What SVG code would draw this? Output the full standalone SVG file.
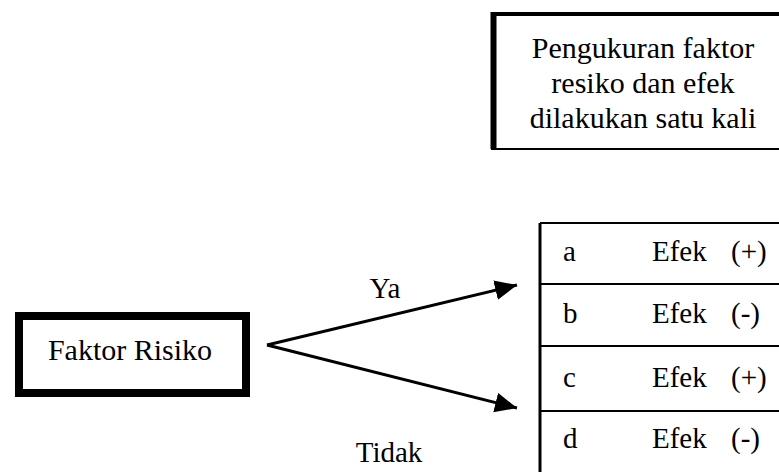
<svg xmlns="http://www.w3.org/2000/svg" width="779" height="472" viewBox="0 0 779 472">
<style>
  text { font-family: 'Liberation Serif', 'Times New Roman', 'DejaVu Serif', serif; fill: #000; }
  .big { font-size: 30px; }
  .mid { font-size: 29px; }
  .ln { stroke: #000; fill: none; }
</style>
<defs>
  <marker id="ah" viewBox="0 0 22 20" refX="22" refY="10" markerWidth="22" markerHeight="20" markerUnits="userSpaceOnUse" orient="auto">
    <path d="M0,0 L22,10 L0,20 Z" fill="#000"/>
  </marker>
</defs>
<rect width="779" height="472" fill="#fff"/>

<g id="note" font-family="Liberation Serif, serif">
  <path class="ln" d="M491,14 H779" stroke-width="4"/>
  <path class="ln" d="M493.5,12 V149" stroke-width="6"/>
  <path class="ln" d="M491,149 H779" stroke-width="2"/>
  <text class="big" x="643" y="58" text-anchor="middle">Pengukuran faktor</text>
  <text class="big" x="643" y="93" text-anchor="middle">resiko dan efek</text>
  <text class="big" x="643" y="128" text-anchor="middle">dilakukan satu kali</text>
</g>

<g id="faktor">
  <rect x="19" y="316" width="227" height="77" fill="#fff" stroke="#000" stroke-width="8"/>
  <text class="big" x="130" y="360" text-anchor="middle">Faktor Risiko</text>
</g>

<g id="connectors">
  <path class="ln" d="M267,345 L517,285" stroke-width="3" marker-end="url(#ah)"/>
  <path class="ln" d="M267,345 L517,408" stroke-width="3" marker-end="url(#ah)"/>
  <text class="mid" x="385" y="298" text-anchor="middle">Ya</text>
  <text class="mid" x="389" y="462" text-anchor="middle">Tidak</text>
</g>

<g id="tabel">
  <path class="ln" d="M540,223 V472" stroke-width="3"/>
  <path class="ln" d="M540,223 H779 M540,284 H779 M540,346 H779 M540,411 H779" stroke-width="2"/>
  <text class="mid" x="563" y="261">a</text>
  <text class="mid" x="652" y="261">Efek</text>
  <text class="mid" x="731" y="261">(+)</text>
  <text class="mid" x="563" y="323">b</text>
  <text class="mid" x="652" y="323">Efek</text>
  <text class="mid" x="731" y="323">(-)</text>
  <text class="mid" x="563" y="387">c</text>
  <text class="mid" x="652" y="387">Efek</text>
  <text class="mid" x="731" y="387">(+)</text>
  <text class="mid" x="563" y="448">d</text>
  <text class="mid" x="652" y="448">Efek</text>
  <text class="mid" x="731" y="448">(-)</text>
</g>
</svg>
